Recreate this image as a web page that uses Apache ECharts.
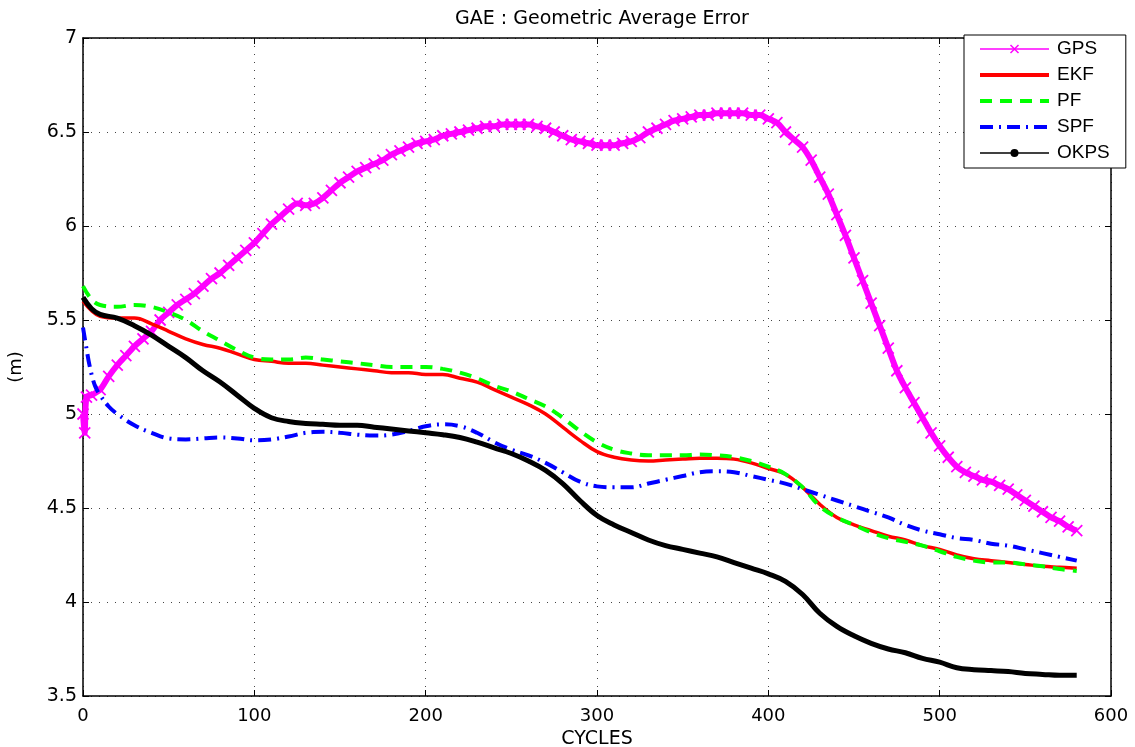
<!DOCTYPE html>
<html>
<head>
<meta charset="utf-8">
<script src="https://cdn.jsdelivr.net/npm/echarts@6/dist/echarts.min.js"></script>
<style>
html,body{margin:0;padding:0;background:#fff;}
#chart{width:1135px;height:747px;}
</style>
</head>
<body>
<div id="chart"></div>
<script>
// ---- Data ----
const seriesNames = ['GPS', 'EKF', 'PF', 'SPF', 'OKPS'];
const xTicks = [0, 100, 200, 300, 400, 500, 600];
const yTicks = [3.5, 4, 4.5, 5, 5.5, 6, 6.5, 7];

const gpsX = [0,1,2,5,10,15,20,25,30,35,40,45,50,55,60,65,70,75,80,85,90,95,100,105,110,115,120,125,130,135,140,145,150,155,160,165,170,175,180,185,190,195,200,205,210,215,220,225,230,235,240,245,250,255,260,265,270,275,280,285,290,295,300,305,310,315,320,325,330,335,340,345,350,355,360,365,370,375,380,385,390,395,400,405,410,415,420,425,430,435,440,445,450,455,460,465,470,475,480,485,490,495,500,505,510,515,520,525,530,535,540,545,550,555,560,565,570,575,580];
const gpsY = [5.0,4.9,5.09,5.1,5.13,5.2,5.26,5.31,5.36,5.4,5.44,5.5,5.54,5.58,5.61,5.64,5.68,5.72,5.75,5.79,5.83,5.87,5.91,5.96,6.01,6.05,6.09,6.12,6.11,6.12,6.15,6.19,6.23,6.26,6.29,6.31,6.33,6.35,6.38,6.4,6.42,6.44,6.45,6.46,6.48,6.49,6.5,6.51,6.52,6.53,6.53,6.54,6.54,6.54,6.54,6.53,6.52,6.5,6.48,6.46,6.45,6.44,6.43,6.43,6.43,6.44,6.45,6.47,6.5,6.52,6.54,6.56,6.57,6.58,6.59,6.59,6.6,6.6,6.6,6.6,6.59,6.59,6.57,6.55,6.5,6.46,6.42,6.35,6.26,6.17,6.06,5.95,5.83,5.71,5.59,5.47,5.35,5.23,5.14,5.06,4.98,4.9,4.83,4.77,4.72,4.69,4.67,4.65,4.64,4.62,4.6,4.57,4.54,4.51,4.48,4.45,4.43,4.4,4.38];

const stdX = [0,5,10,20,30,40,50,60,70,80,90,100,110,120,130,140,150,160,170,180,190,200,210,220,230,240,250,260,270,280,290,300,310,320,330,340,350,360,370,380,390,400,410,420,430,440,450,460,470,480,490,500,510,520,530,540,550,560,570,580];
const ekfY = [5.6,5.55,5.52,5.51,5.51,5.48,5.44,5.4,5.37,5.35,5.32,5.29,5.28,5.27,5.27,5.26,5.25,5.24,5.23,5.22,5.22,5.21,5.21,5.19,5.17,5.13,5.09,5.05,5.0,4.93,4.86,4.8,4.77,4.755,4.75,4.755,4.76,4.765,4.765,4.76,4.74,4.71,4.68,4.61,4.52,4.45,4.41,4.38,4.35,4.33,4.3,4.28,4.25,4.23,4.22,4.21,4.2,4.19,4.185,4.18];
const pfY = [5.68,5.61,5.58,5.57,5.58,5.57,5.54,5.5,5.44,5.39,5.34,5.3,5.29,5.29,5.3,5.29,5.28,5.27,5.26,5.25,5.25,5.25,5.24,5.22,5.19,5.15,5.12,5.08,5.04,4.98,4.91,4.85,4.81,4.79,4.78,4.78,4.78,4.785,4.78,4.77,4.75,4.72,4.68,4.61,4.51,4.45,4.41,4.37,4.34,4.32,4.3,4.27,4.24,4.22,4.21,4.21,4.2,4.19,4.175,4.165];
const okpsY = [5.62,5.56,5.53,5.51,5.47,5.42,5.36,5.3,5.23,5.17,5.1,5.03,4.98,4.96,4.95,4.945,4.94,4.94,4.93,4.92,4.91,4.9,4.89,4.875,4.85,4.82,4.79,4.75,4.7,4.63,4.54,4.46,4.41,4.37,4.33,4.3,4.28,4.26,4.24,4.21,4.18,4.15,4.11,4.04,3.94,3.87,3.82,3.78,3.75,3.73,3.7,3.68,3.65,3.64,3.635,3.63,3.62,3.615,3.61,3.61];

const spfX = [0,2,4,7,10,15,20,30,40,50,60,70,80,90,100,110,120,130,140,150,160,170,180,190,200,210,220,230,240,250,260,270,280,290,300,310,320,330,340,350,360,370,380,390,400,410,420,430,440,450,460,470,480,490,500,510,520,530,540,550,560,570,580];
const spfY = [5.46,5.35,5.25,5.15,5.1,5.04,5.0,4.94,4.9,4.87,4.865,4.87,4.875,4.87,4.86,4.865,4.88,4.9,4.905,4.9,4.89,4.885,4.89,4.91,4.935,4.945,4.935,4.9,4.85,4.81,4.78,4.74,4.69,4.64,4.615,4.61,4.61,4.63,4.65,4.67,4.69,4.695,4.69,4.67,4.65,4.63,4.6,4.57,4.54,4.51,4.48,4.45,4.41,4.38,4.36,4.34,4.33,4.31,4.3,4.28,4.26,4.24,4.22];

function pairs(xs, ys) { return xs.map((x, i) => [x, ys[i]]); }

const crossPath = 'path://M0,0L10,10M10,0L0,10';
const FONT = 'DejaVu Sans';

const chart = echarts.init(document.getElementById('chart'), null, { renderer: 'canvas' });

const gridSplit = { show: true, lineStyle: { color: '#444', width: 1, type: [1, 7] } };

const option = {
  animation: false,
  backgroundColor: '#fff',
  title: {
    text: 'GAE : Geometric Average Error',
    left: 597, top: 5, textAlign: 'center',
    textStyle: { fontFamily: FONT, fontSize: 19, fontWeight: 'normal', color: '#000' }
  },
  grid: { left: 83, top: 38, right: 24, bottom: 51, show: false, outerBoundsMode: 'none', containLabel: false },
  legend: {
    orient: 'vertical',
    left: 964, top: 35,
    padding: [1, 16, 2, 14],
    itemWidth: 69, itemHeight: 10, itemGap: 0,
    backgroundColor: '#fff', borderColor: '#000', borderWidth: 1, borderRadius: 0,
    textStyle: { fontFamily: 'Liberation Sans', fontSize: 19, color: '#000', lineHeight: 26, padding: [0, 0, 0, 3] },
    data: [
      { name: 'GPS', lineStyle: { width: 1.5 }, itemStyle: { borderWidth: 1.5 } },
      { name: 'EKF', lineStyle: { width: 4 }, itemStyle: { opacity: 0 } },
      { name: 'PF', lineStyle: { width: 4 }, itemStyle: { opacity: 0 } },
      { name: 'SPF', lineStyle: { width: 4 }, itemStyle: { opacity: 0 } },
      { name: 'OKPS', lineStyle: { width: 1.5 } }
    ]
  },
  xAxis: [{
    type: 'value', min: 0, max: 600, interval: 100,
    name: 'CYCLES', nameLocation: 'middle', nameGap: 28,
    nameTextStyle: { fontFamily: FONT, fontSize: 19, color: '#000' },
    axisLine: { show: true, onZero: false, lineStyle: { color: '#000', width: 1.5 } },
    axisTick: { show: true, inside: true, length: 6, lineStyle: { color: '#000' } },
    axisLabel: { fontFamily: FONT, fontSize: 18, color: '#000', margin: 11 },
    splitLine: gridSplit
  }, {
    type: 'value', min: 0, max: 600, interval: 100, position: 'top',
    axisLine: { show: true, onZero: false, lineStyle: { color: '#000', width: 1.5 } },
    axisTick: { show: true, inside: true, length: 6, lineStyle: { color: '#000' } },
    axisLabel: { show: false }, splitLine: { show: false }
  }],
  yAxis: [{
    type: 'value', min: 3.5, max: 7, interval: 0.5,
    name: '(m)', nameLocation: 'middle', nameGap: 58, nameRotate: 90,
    nameTextStyle: { fontFamily: FONT, fontSize: 18, color: '#000' },
    axisLine: { show: true, onZero: false, lineStyle: { color: '#000', width: 1.5 } },
    axisTick: { show: true, inside: true, length: 6, lineStyle: { color: '#000' } },
    axisLabel: { fontFamily: FONT, fontSize: 19, color: '#000', margin: 6 },
    splitLine: gridSplit
  }, {
    type: 'value', min: 3.5, max: 7, interval: 0.5, position: 'right',
    axisLine: { show: true, onZero: false, lineStyle: { color: '#000', width: 1.5 } },
    axisTick: { show: true, inside: true, length: 6, lineStyle: { color: '#000' } },
    axisLabel: { show: false }, splitLine: { show: false }
  }],
  series: [
    {
      name: 'GPS', type: 'line', data: pairs(gpsX, gpsY), smooth: 0.3,
      symbol: crossPath, symbolSize: 11, showSymbol: true, showAllSymbol: true,
      color: '#ff00ff',
      itemStyle: { color: '#ff00ff', borderColor: '#ff00ff', borderWidth: 1.8 },
      lineStyle: { color: '#ff00ff', width: 6 }, z: 2
    },
    {
      name: 'EKF', type: 'line', data: pairs(stdX, ekfY), smooth: 0.4,
      symbol: 'circle', showSymbol: false, color: '#ff0000',
      lineStyle: { color: '#ff0000', width: 3.5 }, z: 3
    },
    {
      name: 'PF', type: 'line', data: pairs(stdX, pfY), smooth: 0.4,
      symbol: 'circle', showSymbol: false, color: '#00ff00',
      lineStyle: { color: '#00ff00', width: 4, type: [12, 8] }, z: 4
    },
    {
      name: 'SPF', type: 'line', data: pairs(spfX, spfY), smooth: 0.4,
      symbol: 'circle', showSymbol: false, color: '#0000ff',
      lineStyle: { color: '#0000ff', width: 4, type: [13, 6, 2, 6] }, z: 5
    },
    {
      name: 'OKPS', type: 'line', data: pairs(stdX, okpsY), smooth: 0.4,
      symbol: 'circle', symbolSize: 6, showSymbol: false, color: '#000000',
      lineStyle: { color: '#000000', width: 5 }, z: 6
    }
  ]
};
chart.setOption(option);
</script>
</body>
</html>
